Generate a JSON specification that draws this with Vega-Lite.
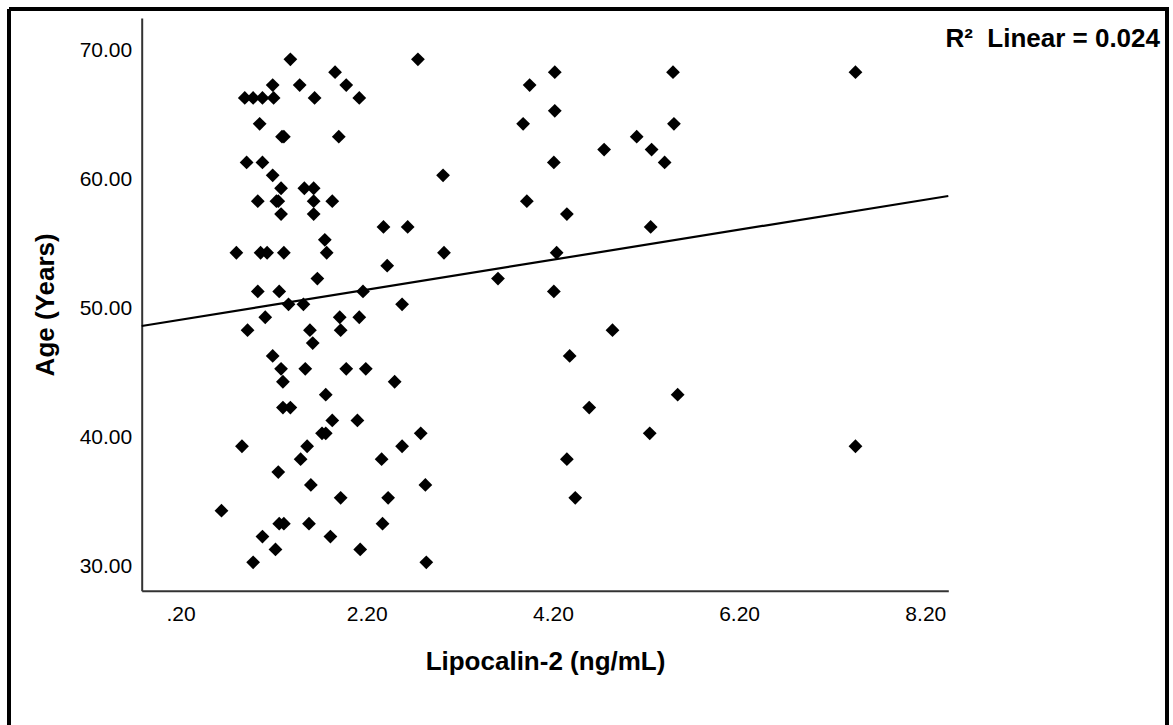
{
  "$schema": "https://vega.github.io/schema/vega-lite/v6.json",
  "width": 1158,
  "height": 716,
  "autosize": {"type": "none"},
  "padding": {"left": 9, "top": 9, "right": 6, "bottom": 0},
  "background": "white",
  "view": {"stroke": "black", "strokeWidth": 4, "strokeDash": [1874, 1158, 716, 0], "fill": "white"},
  "title": {
    "text": "R²\u00a0 Linear = 0.024",
    "orient": "top",
    "anchor": "end",
    "frame": "group",
    "offset": -64,
    "baseline": "alphabetic",
    "dx": -7,
    "font": "Liberation Sans",
    "fontSize": 26,
    "fontWeight": "bold",
    "color": "black"
  },
  "config": {
    "axis": {
      "domainColor": "#333333",
      "domainWidth": 2,
      "ticks": false,
      "grid": false,
      "labelFont": "Liberation Sans",
      "labelFontSize": 21,
      "labelColor": "black",
      "titleFont": "Liberation Sans",
      "titleFontSize": 26,
      "titleFontWeight": "bold",
      "titleColor": "black"
    }
  },
  "datasets": {
    "points": [
      {"lipocalin": 1.38, "age": 69}, {"lipocalin": 2.75, "age": 69},
      {"lipocalin": 1.86, "age": 68}, {"lipocalin": 1.19, "age": 67},
      {"lipocalin": 1.48, "age": 67}, {"lipocalin": 1.98, "age": 67},
      {"lipocalin": 0.89, "age": 66}, {"lipocalin": 0.98, "age": 66},
      {"lipocalin": 1.08, "age": 66}, {"lipocalin": 1.2, "age": 66},
      {"lipocalin": 1.64, "age": 66}, {"lipocalin": 2.12, "age": 66},
      {"lipocalin": 1.05, "age": 64}, {"lipocalin": 1.29, "age": 63},
      {"lipocalin": 1.31, "age": 63}, {"lipocalin": 1.9, "age": 63},
      {"lipocalin": 0.91, "age": 61}, {"lipocalin": 1.08, "age": 61},
      {"lipocalin": 1.19, "age": 60}, {"lipocalin": 3.02, "age": 60},
      {"lipocalin": 1.28, "age": 59}, {"lipocalin": 1.53, "age": 59},
      {"lipocalin": 1.63, "age": 59}, {"lipocalin": 1.03, "age": 58},
      {"lipocalin": 1.23, "age": 58}, {"lipocalin": 1.25, "age": 58},
      {"lipocalin": 1.63, "age": 58}, {"lipocalin": 1.83, "age": 58},
      {"lipocalin": 1.28, "age": 57}, {"lipocalin": 1.63, "age": 57},
      {"lipocalin": 2.38, "age": 56}, {"lipocalin": 2.64, "age": 56},
      {"lipocalin": 1.75, "age": 55}, {"lipocalin": 0.8, "age": 54},
      {"lipocalin": 1.06, "age": 54}, {"lipocalin": 1.13, "age": 54},
      {"lipocalin": 1.31, "age": 54}, {"lipocalin": 1.77, "age": 54},
      {"lipocalin": 3.03, "age": 54}, {"lipocalin": 2.42, "age": 53},
      {"lipocalin": 1.67, "age": 52}, {"lipocalin": 1.03, "age": 51},
      {"lipocalin": 1.26, "age": 51}, {"lipocalin": 2.16, "age": 51},
      {"lipocalin": 1.36, "age": 50}, {"lipocalin": 1.52, "age": 50},
      {"lipocalin": 2.58, "age": 50}, {"lipocalin": 1.11, "age": 49},
      {"lipocalin": 1.91, "age": 49}, {"lipocalin": 2.12, "age": 49},
      {"lipocalin": 0.92, "age": 48}, {"lipocalin": 1.59, "age": 48},
      {"lipocalin": 1.92, "age": 48}, {"lipocalin": 1.62, "age": 47},
      {"lipocalin": 1.19, "age": 46}, {"lipocalin": 1.28, "age": 45},
      {"lipocalin": 1.54, "age": 45}, {"lipocalin": 1.98, "age": 45},
      {"lipocalin": 2.19, "age": 45}, {"lipocalin": 1.3, "age": 44},
      {"lipocalin": 2.5, "age": 44}, {"lipocalin": 1.76, "age": 43},
      {"lipocalin": 1.3, "age": 42}, {"lipocalin": 1.38, "age": 42},
      {"lipocalin": 1.83, "age": 41}, {"lipocalin": 2.1, "age": 41},
      {"lipocalin": 1.72, "age": 40}, {"lipocalin": 1.76, "age": 40},
      {"lipocalin": 2.78, "age": 40}, {"lipocalin": 0.86, "age": 39},
      {"lipocalin": 1.56, "age": 39}, {"lipocalin": 2.58, "age": 39},
      {"lipocalin": 1.49, "age": 38}, {"lipocalin": 2.36, "age": 38},
      {"lipocalin": 1.25, "age": 37}, {"lipocalin": 1.6, "age": 36},
      {"lipocalin": 2.83, "age": 36}, {"lipocalin": 1.92, "age": 35},
      {"lipocalin": 2.43, "age": 35}, {"lipocalin": 0.64, "age": 34},
      {"lipocalin": 1.26, "age": 33}, {"lipocalin": 1.31, "age": 33},
      {"lipocalin": 1.58, "age": 33}, {"lipocalin": 2.37, "age": 33},
      {"lipocalin": 1.08, "age": 32}, {"lipocalin": 1.81, "age": 32},
      {"lipocalin": 1.22, "age": 31}, {"lipocalin": 2.13, "age": 31},
      {"lipocalin": 0.98, "age": 30}, {"lipocalin": 2.84, "age": 30},
      {"lipocalin": 4.22, "age": 68}, {"lipocalin": 5.49, "age": 68},
      {"lipocalin": 7.45, "age": 68}, {"lipocalin": 3.95, "age": 67},
      {"lipocalin": 4.22, "age": 65}, {"lipocalin": 3.88, "age": 64},
      {"lipocalin": 5.5, "age": 64}, {"lipocalin": 5.1, "age": 63},
      {"lipocalin": 4.75, "age": 62}, {"lipocalin": 5.26, "age": 62},
      {"lipocalin": 4.21, "age": 61}, {"lipocalin": 5.4, "age": 61},
      {"lipocalin": 3.92, "age": 58}, {"lipocalin": 4.35, "age": 57},
      {"lipocalin": 5.25, "age": 56}, {"lipocalin": 4.24, "age": 54},
      {"lipocalin": 3.61, "age": 52}, {"lipocalin": 4.21, "age": 51},
      {"lipocalin": 4.84, "age": 48}, {"lipocalin": 4.38, "age": 46},
      {"lipocalin": 5.54, "age": 43}, {"lipocalin": 4.59, "age": 42},
      {"lipocalin": 5.24, "age": 40}, {"lipocalin": 7.45, "age": 39},
      {"lipocalin": 4.35, "age": 38}, {"lipocalin": 4.44, "age": 35}
    ],
    "fit": [
      {"lipocalin": -0.217, "age": 48.32},
      {"lipocalin": 8.447, "age": 58.4}
    ]
  },
  "layer": [
    {
      "data": {"name": "points"},
      "mark": {"type": "point", "shape": "diamond", "filled": true, "size": 190, "color": "black", "opacity": 1, "strokeWidth": 0},
      "encoding": {
        "x": {
          "field": "lipocalin",
          "type": "quantitative",
          "title": "Lipocalin-2 (ng/mL)",
          "scale": {"domain": [-0.217, 8.447], "range": [132.7, 939.3], "nice": false, "zero": false},
          "axis": {
            "values": [0.2, 2.2, 4.2, 6.2, 8.2],
            "labelExpr": "datum.value < 1 ? substring(format(datum.value, '.2f'), 1) : format(datum.value, '.2f')",
            "offset": -134.3,
            "labelPadding": 13,
            "titlePadding": 24
          }
        },
        "y": {
          "field": "age",
          "type": "quantitative",
          "title": "Age (Years)",
          "scale": {"domain": [27.8, 72.2], "range": [581.7, 9], "nice": false, "zero": false},
          "axis": {
            "values": [30, 40, 50, 60, 70],
            "format": ".2f",
            "offset": -132.7,
            "labelPadding": 10,
            "labelOffset": 4,
            "titlePadding": 21
          }
        }
      }
    },
    {
      "data": {"name": "fit"},
      "mark": {"type": "line", "color": "black", "strokeWidth": 2.2},
      "encoding": {
        "x": {"field": "lipocalin", "type": "quantitative"},
        "y": {"field": "age", "type": "quantitative"}
      }
    }
  ]
}
